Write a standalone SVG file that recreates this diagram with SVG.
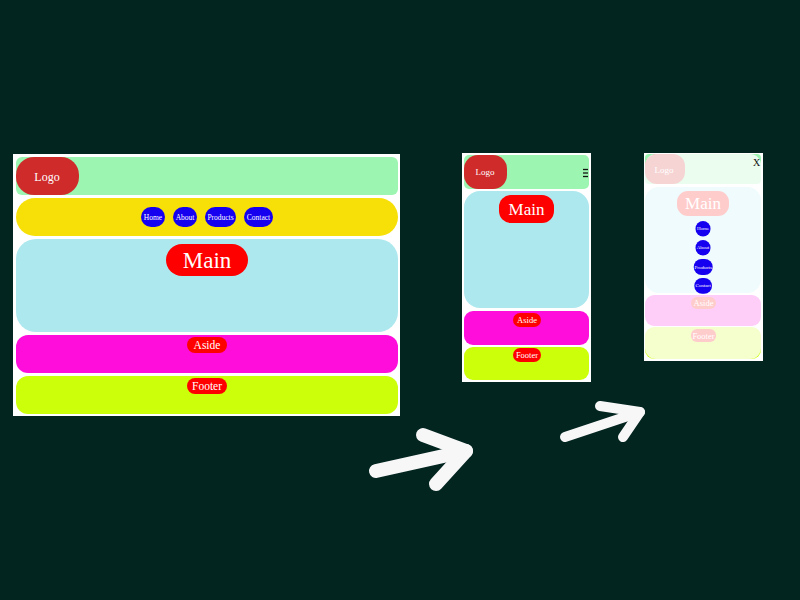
<svg xmlns="http://www.w3.org/2000/svg" width="800" height="600" viewBox="0 0 800 600">
<style>
text{font-family:"Liberation Serif","Times New Roman",serif;fill:#fff;text-anchor:middle;dominant-baseline:central}
.frame{fill:#fff}
.hdr{fill:#9cf5b0}
.logo{fill:#cf2b2b}
.nav{fill:#f7e007}
.main{fill:#ade8ee}
.aside{fill:#ff0edb}
.foot{fill:#ccff0a}
.lbl{fill:#ff0000}
.btn{fill:#1600f0}
.arrow{fill:none;stroke:#f7f7f7;stroke-linecap:round;stroke-linejoin:round}
</style>
<rect width="800" height="600" fill="#032520"/>

<g id="desktop">
  <rect class="frame" x="13" y="154" width="387" height="262"/>
  <g id="d-header">
    <rect class="hdr" x="16" y="157" width="382" height="38" rx="6"/>
    <rect class="logo" x="16" y="157" width="63" height="38" rx="18"/>
    <text x="47" y="177" font-size="12">Logo</text>
  </g>
  <g id="d-nav">
    <rect class="nav" x="16" y="198" width="382" height="38" rx="19"/>
    <rect class="btn" x="141" y="207" width="24" height="20" rx="10"/>
    <text x="153" y="217" font-size="7.5">Home</text>
    <rect class="btn" x="173" y="207" width="24" height="20" rx="10"/>
    <text x="185" y="217" font-size="7.5">About</text>
    <rect class="btn" x="205" y="207" width="31" height="20" rx="10"/>
    <text x="220.5" y="217" font-size="7.5">Products</text>
    <rect class="btn" x="244" y="207" width="29" height="20" rx="10"/>
    <text x="258.5" y="217" font-size="7.5">Contact</text>
  </g>
  <g id="d-main">
    <rect class="main" x="16" y="239" width="382" height="93" rx="20"/>
    <rect class="lbl" x="166" y="244" width="82" height="32" rx="16"/>
    <text x="207" y="260" font-size="23">Main</text>
  </g>
  <g id="d-aside">
    <rect class="aside" x="16" y="335" width="382" height="38" rx="12"/>
    <rect class="lbl" x="187" y="337" width="40" height="16" rx="8"/>
    <text x="207" y="345" font-size="11.5">Aside</text>
  </g>
  <g id="d-footer">
    <rect class="foot" x="16" y="376" width="382" height="38" rx="12"/>
    <rect class="lbl" x="187" y="378" width="40" height="16" rx="8"/>
    <text x="207" y="386" font-size="11.5">Footer</text>
  </g>
</g>

<g id="tablet">
  <rect class="frame" x="462" y="153" width="129" height="229"/>
  <g id="t-header">
    <rect class="hdr" x="464" y="155" width="125" height="34" rx="5"/>
    <rect class="logo" x="464" y="155" width="43" height="34" rx="14"/>
    <text x="485" y="172" font-size="9">Logo</text>
    <g stroke="#111" stroke-width="1.3">
      <line x1="583" y1="169.5" x2="588" y2="169.5"/>
      <line x1="583" y1="173" x2="588" y2="173"/>
      <line x1="583" y1="176.5" x2="588" y2="176.5"/>
    </g>
  </g>
  <g id="t-main">
    <rect class="main" x="464" y="191" width="125" height="117" rx="16"/>
    <rect class="lbl" x="499" y="195" width="55" height="28" rx="12"/>
    <text x="526.5" y="209" font-size="17">Main</text>
  </g>
  <g id="t-aside">
    <rect class="aside" x="464" y="311" width="125" height="34" rx="9"/>
    <rect class="lbl" x="513" y="313" width="28" height="14" rx="7"/>
    <text x="527" y="320" font-size="8.5">Aside</text>
  </g>
  <g id="t-footer">
    <rect class="foot" x="464" y="347" width="125" height="33" rx="9"/>
    <rect class="lbl" x="513" y="348" width="28" height="14" rx="7"/>
    <text x="527" y="355" font-size="8.5">Footer</text>
  </g>
</g>

<g id="mobile">
  <rect class="frame" x="644" y="153" width="119" height="208"/>
  <g id="m-base">
    <rect class="hdr" x="645" y="154" width="116" height="30" rx="4"/>
    <rect class="logo" x="645" y="154" width="40" height="30" rx="12"/>
    <rect class="main" x="645" y="187" width="116" height="106" rx="14"/>
    <rect class="lbl" x="677" y="191" width="52" height="25" rx="11"/>
    <rect class="aside" x="645" y="295" width="116" height="31" rx="9"/>
    <rect class="lbl" x="691" y="297" width="25" height="12" rx="6"/>
    <rect class="foot" x="645" y="327" width="116" height="32" rx="9"/>
    <rect class="lbl" x="691" y="329" width="25" height="13" rx="6"/>
    <rect x="645" y="154" width="116" height="205" rx="11" fill="#fff" opacity="0.8"/>
  </g>
  <g id="m-header">
    <text x="664" y="170" font-size="9">Logo</text>
    <text x="756.5" y="162" font-size="10" style="fill:#111">X</text>
  </g>
  <g id="m-main">
    <text x="703" y="203" font-size="17">Main</text>
  </g>
  <g id="m-nav">
    <rect class="btn" x="695.5" y="221" width="15" height="15.5" rx="7.5"/>
    <text x="703" y="228.7" font-size="5">Home</text>
    <rect class="btn" x="695.5" y="240" width="15" height="15.5" rx="7.5"/>
    <text x="703" y="247.7" font-size="5">About</text>
    <rect class="btn" x="693.7" y="259" width="19" height="16" rx="8"/>
    <text x="703.2" y="267" font-size="5">Products</text>
    <rect class="btn" x="694.3" y="278" width="17.7" height="15.7" rx="7.8"/>
    <text x="703.2" y="285.8" font-size="5">Contact</text>
  </g>
  <g id="m-aside">
    <text x="703.5" y="303" font-size="8.5">Aside</text>
  </g>
  <g id="m-footer">
    <text x="703.5" y="335.5" font-size="8.5">Footer</text>
  </g>
</g>

<g id="connectors">
  <g id="arrow1" class="arrow" stroke-width="14">
    <path d="M376 471 L466 451"/>
    <path d="M423 435 L466 451 L436 484"/>
  </g>
  <g id="arrow2" class="arrow" stroke-width="10">
    <path d="M565 437 L640 412"/>
    <path d="M600 406 L640 412 L623 437"/>
  </g>
</g>
</svg>
